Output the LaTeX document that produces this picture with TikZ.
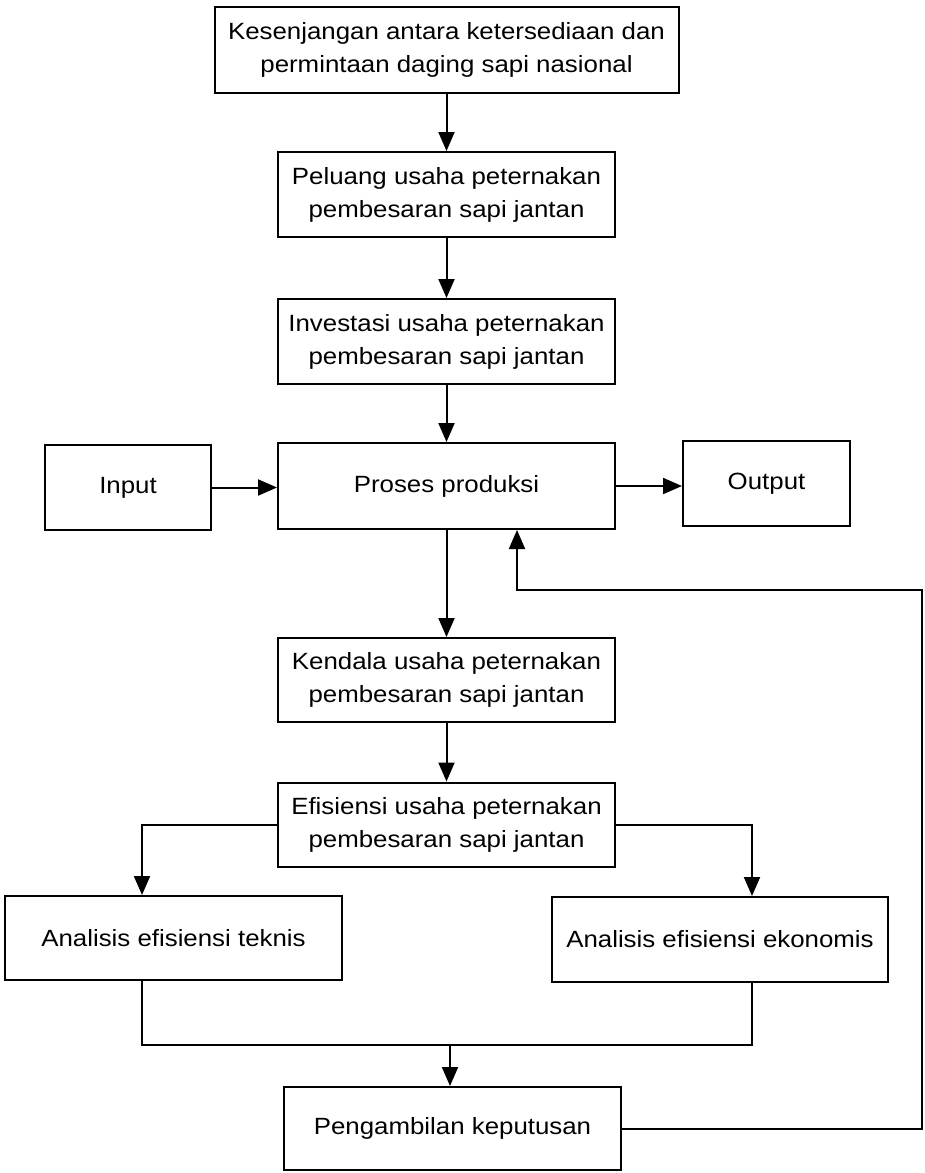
\documentclass[tikz,border=0pt]{standalone}
\usepackage{fontspec}
\setmainfont{Liberation Sans}[FakeStretch=1.1]
\usetikzlibrary{arrows.meta}
\tikzset{
  box/.style={draw, line width=2pt, align=center, inner sep=0pt,
    minimum width=337pt, minimum height=85pt,
    font=\fontsize{23.5}{33}\selectfont},
  arr/.style={line width=2pt, -{Triangle[length=19pt,width=16pt]}},
  ln/.style={line width=2pt}
}
\begin{document}
\begin{tikzpicture}[x=1pt,y=-1pt]
\useasboundingbox (0,0) rectangle (925,1173);
\node[box, minimum width=464pt, minimum height=86pt] (top) at (446.5,50) {Kesenjangan antara ketersediaan dan\\permintaan daging sapi nasional};
\node[box] (pel) at (446.5,194.5) {Peluang usaha peternakan\\pembesaran sapi jantan};
\node[box] (inv) at (446.5,341.5) {Investasi usaha peternakan\\pembesaran sapi jantan};
\node[box, minimum width=166pt] (inp) at (128,487.5) {Input};
\node[box, minimum height=86pt] (pro) at (446.5,486) {Proses produksi};
\node[box, minimum width=167pt] (out) at (766.5,483.5) {Output};
\node[box, minimum height=84pt] (ken) at (446.5,680) {Kendala usaha peternakan\\pembesaran sapi jantan};
\node[box, minimum height=84pt] (efi) at (446.5,824.5) {Efisiensi usaha peternakan\\pembesaran sapi jantan};
\node[box, minimum height=84pt] (tek) at (173.5,938) {Analisis efisiensi teknis};
\node[box, minimum width=336pt] (eko) at (720,939.5) {Analisis efisiensi ekonomis};
\node[box, minimum height=83pt] (pen) at (452.5,1128.5) {Pengambilan keputusan};
\coordinate (join) at (450,1045);
\coordinate (fb) at (922,590);
\draw[arr] (top.south) -- (pel.north);
\draw[arr] (pel.south) -- (inv.north);
\draw[arr] (inv.south) -- (pro.north);
\draw[arr] (inp.east) -- (pro.west |- inp.east);
\draw[arr] (pro.east) -- (out.west |- pro.east);
\draw[arr] (pro.south) -- (ken.north);
\draw[arr] (ken.south) -- (efi.north);
\draw[arr] (efi.west) -| ([xshift=-31.5pt]tek.north);
\draw[arr] (efi.east) -| ([xshift=32pt]eko.north);
\draw[ln] ([xshift=-31.5pt]tek.south) |- (join) -| ([xshift=32pt]eko.south);
\draw[arr] (join) -- (join |- pen.north);
\draw[arr] (pen.east) -| (fb) -| ([xshift=70.5pt]pro.south);
\end{tikzpicture}
\end{document}
